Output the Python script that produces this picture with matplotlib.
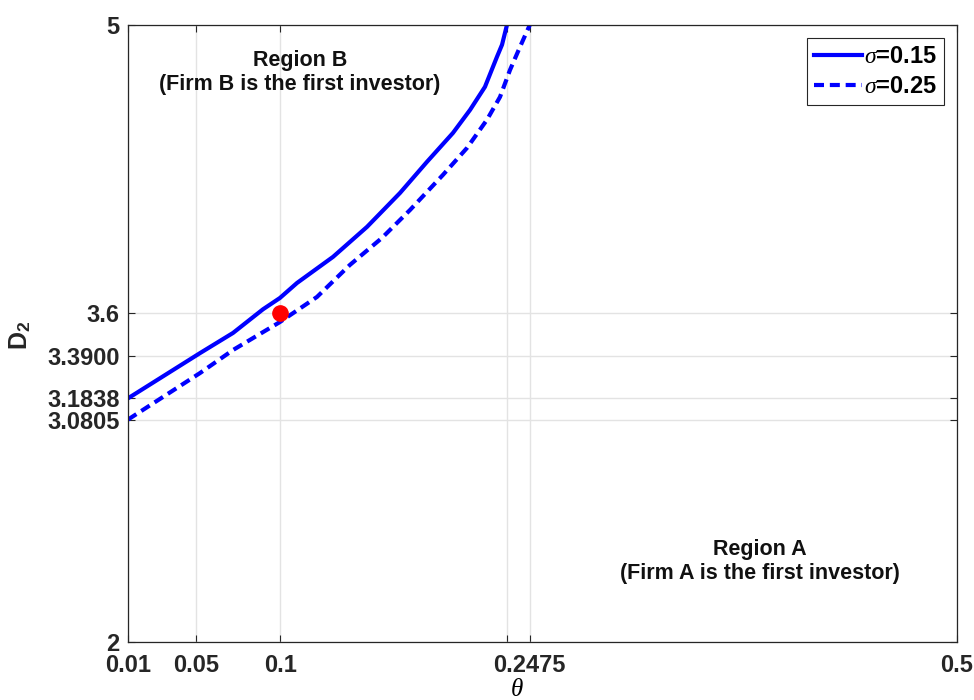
import matplotlib
matplotlib.use("Agg")
import matplotlib.pyplot as plt

plt.rcParams['font.family'] = ['Liberation Sans', 'DejaVu Sans']
plt.rcParams['mathtext.fontset'] = 'custom'
plt.rcParams['mathtext.it'] = 'Liberation Serif:italic'
plt.rcParams['mathtext.rm'] = 'Liberation Sans:bold'

# data
theta_s015 = [0.01, 0.0526, 0.0721, 0.0898, 0.0998, 0.1099, 0.1312, 0.1513, 0.1708, 0.1867,
              0.2021, 0.2122, 0.2210, 0.2281, 0.2311, 0.2340]
d2_s015 = [3.1838, 3.404, 3.502, 3.617, 3.672, 3.745, 3.872, 4.018, 4.183, 4.334,
           4.475, 4.587, 4.699, 4.845, 4.904, 5.0]
theta_s025 = [0.01, 0.0526, 0.0721, 0.0998, 0.1217, 0.1412, 0.1601, 0.1767, 0.1962, 0.2104,
              0.2222, 0.2299, 0.2358, 0.2417, 0.2475]
d2_s025 = [3.0805, 3.307, 3.419, 3.555, 3.677, 3.833, 3.964, 4.100, 4.271, 4.402,
           4.539, 4.650, 4.781, 4.893, 5.0]
point_theta = [0.1]
point_d2 = [3.6]
xticks = [0.01, 0.05, 0.1, 0.2342, 0.2475, 0.5]
xticklabels = ['0.01', '0.05', '0.1', '', '0.2475', '0.5']
yticks = [2, 3.0805, 3.1838, 3.39, 3.6, 5]
yticklabels = ['2', '3.0805', '3.1838', '3.3900', '3.6', '5']

fig = plt.figure(figsize=(9.74, 7.0), dpi=100)
ax = fig.add_axes([0.1314, 0.0833, 0.8511, 0.881])

ax.plot(theta_s015, d2_s015, '-', color='#0000ff', lw=3, label=r'$\sigma$=0.15')
ax.plot(theta_s025, d2_s025, '--', color='#0000ff', lw=3, dashes=(2.4, 1.4), label=r'$\sigma$=0.25')
ax.plot(point_theta, point_d2, 'o', color='red', ms=11, zorder=5)

ax.set_xlim(0.01, 0.5)
ax.set_ylim(2, 5)
ax.set_xticks(xticks)
ax.set_xticklabels(xticklabels)
ax.set_yticks(yticks)
ax.set_yticklabels(yticklabels)
ax.grid(True, color='#e3e3e3', lw=1)
ax.set_axisbelow(True)
ax.tick_params(direction='in', length=5, width=0.8, color='#262626', labelsize=17,
               top=True, right=True)
ax.tick_params(axis='x', pad=9)
ax.tick_params(axis='y', pad=6)
for lab in ax.get_xticklabels() + ax.get_yticklabels():
    lab.set_fontweight('bold')
    lab.set_color('#262626')
for sp in ax.spines.values():
    sp.set_color('#262626')
    sp.set_linewidth(0.9)

ax.set_xlabel(r'$\theta$', fontsize=18)
ax.xaxis.set_label_coords(0.469, -0.058)
ax.set_ylabel(r'D$_2$', fontsize=18, fontweight='bold', color='#262626')
ax.yaxis.set_label_coords(-0.114, 0.497)

ax.text(0.1117, 4.77, 'Region B\n(Firm B is the first investor)', ha='center', va='center',
        fontsize=15.5, fontweight='bold', linespacing=1.2, color='#111111')
ax.text(0.3836, 2.39, 'Region A\n(Firm A is the first investor)', ha='center', va='center',
        fontsize=15.5, fontweight='bold', linespacing=1.2, color='#111111')

leg = ax.legend(loc='upper right', frameon=True, fancybox=False,
                edgecolor='#262626', framealpha=1, handlelength=2.0, handletextpad=0.1,
                borderpad=0.3, labelspacing=0.3, borderaxespad=0.55,
                prop={'weight': 'bold', 'size': 17})
leg.get_frame().set_linewidth(0.8)

fig.savefig('out.png', dpi=100)
